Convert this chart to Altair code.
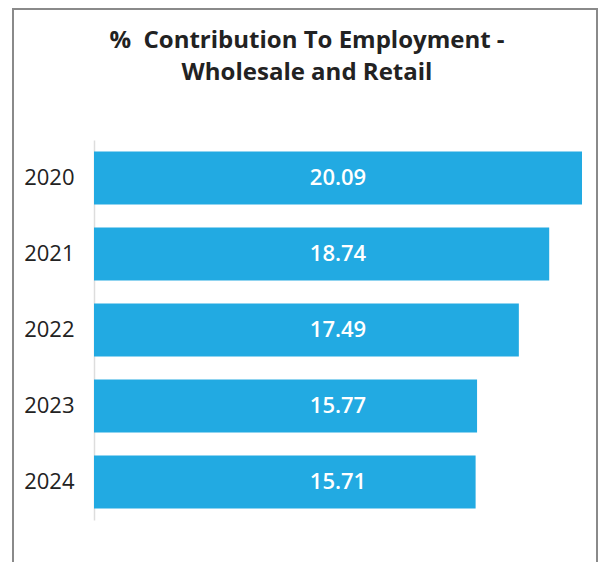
import altair as alt
import pandas as pd

years = ["2020", "2021", "2022", "2023", "2024"]
values = [20.09, 18.74, 17.49, 15.77, 15.71]
title_lines = ["% \u00a0Contribution To Employment -", "Wholesale and Retail"]

df = pd.DataFrame({"year": years, "value": values})
frame_df = pd.DataFrame({"k": [0]})

FONT = "Open Sans"

y_enc = alt.Y(
    "year:N",
    sort=years,
    scale=alt.Scale(paddingInner=0.3, paddingOuter=0.15),
    axis=alt.Axis(
        title=None,
        ticks=False,
        labelFontSize=22,
        labelFont=FONT,
        labelColor="#222222",
        labelPadding=20,
        domainColor="#dddddd",
        domainWidth=1.5,
        grid=False,
    ),
)

bars = alt.Chart(df).mark_bar(color="#22AAE2").encode(
    x=alt.X("value:Q", scale=alt.Scale(domain=[0, 20.09], nice=False), axis=None),
    y=y_enc,
)

labels = alt.Chart(df).mark_text(
    color="white", fontSize=22, font=FONT, fontWeight=600, align="center", baseline="middle"
).encode(
    x=alt.value(244),
    y=alt.Y("year:N", sort=years),
    text=alt.Text("value:Q", format=".2f"),
)

border = alt.Chart(frame_df).mark_rect(fill=None, stroke="#8a8a8a", strokeWidth=2).encode(
    x=alt.value(-81), x2=alt.value(503), y=alt.value(-131), y2=alt.value(620)
)

chart = alt.layer(border, bars, labels).properties(
    width=488,
    height=380,
    padding={"left": 86, "top": 132, "right": 16, "bottom": 42},
    autosize=alt.AutoSizeParams(type="none"),
    title=alt.Title(
        text=title_lines,
        fontSize=24,
        font=FONT,
        fontWeight="bold",
        color="#222222",
        lineHeight=32,
        anchor="middle",
        offset=0,
        dx=-31,
        dy=77,
    ),
).configure_view(stroke=None)

chart.save("out.html", embed_options={"renderer": "svg", "actions": False})
